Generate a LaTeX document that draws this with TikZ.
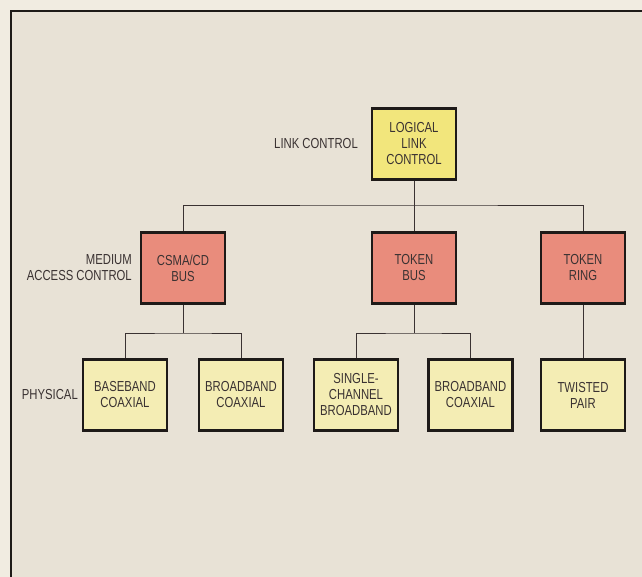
\documentclass[tikz,border=0pt]{standalone}
\usepackage{fontspec}
\setmainfont{Liberation Sans}[FakeStretch=0.78]
\definecolor{paper}{HTML}{F1ECE1}
\definecolor{panel}{HTML}{E8E2D6}
\definecolor{llcfill}{HTML}{F2E67C}
\definecolor{macfill}{HTML}{E98C7C}
\definecolor{phyfill}{HTML}{F4EDB4}
\definecolor{ink}{HTML}{3A3232}
\definecolor{edge}{HTML}{1E1A18}
\tikzset{
  box/.style={draw=edge, line width=2.4pt, minimum width=84pt, minimum height=71pt,
    align=center, font=\fontsize{14.5}{16}\selectfont, text=ink, inner sep=2pt},
  llc/.style={box, fill=llcfill},
  mac/.style={box, fill=macfill},
  phy/.style={box, fill=phyfill},
  lbl/.style={align=right, anchor=east, font=\fontsize{14.5}{16}\selectfont, text=ink, inner sep=0pt},
  wire/.style={draw=ink, line width=0.9pt}
}
\begin{document}
\begin{tikzpicture}[x=1pt,y=-1pt]
\useasboundingbox (0,0) rectangle (642,577);
\fill[paper] (0,0) rectangle (642,577);
\fill[panel] (11,11) rectangle (642,577);
\draw[edge, line width=2pt] (11,577) -- (11,11) -- (642,11);

\node[llc] (llc) at (414,144) {LOGICAL\\LINK\\CONTROL};
\node[mac] (csma) at (183,268) {CSMA/CD\\BUS};
\node[mac] (tbus) at (414,268) {TOKEN\\BUS};
\node[mac] (tring) at (583,268) {TOKEN\\RING};
\node[phy] (base) at (125,395) {BASEBAND\\COAXIAL};
\node[phy] (broad1) at (241,395) {BROADBAND\\COAXIAL};
\node[phy] (single) at (356,395) {SINGLE-\\CHANNEL\\BROADBAND};
\node[phy] (broad2) at (470.5,395) {BROADBAND\\COAXIAL};
\node[phy] (twist) at (583,395) {TWISTED\\PAIR};

\node[lbl] (llab) at (358,144) {LINK CONTROL};
\node[lbl] (mlab) at (132,268) {MEDIUM\\ACCESS CONTROL};
\node[lbl] (plab) at (78,395) {PHYSICAL};

\coordinate (h1) at (414,205);
\coordinate (h2) at (183,333);
\coordinate (h3) at (414,333);

\draw[wire] (llc.south) -- (h1);
\draw[wire] (csma.north) |- (h1) -| (tring.north);
\draw[wire] (h1) -- (tbus.north);
\draw[wire] (csma.south) -- (h2);
\draw[wire] (base.north) |- (h2) -| (broad1.north);
\draw[wire] (tbus.south) -- (h3);
\draw[wire] (single.north) |- (h3) -| (broad2.north);
\draw[wire] (tring.south) -- (twist.north);
\end{tikzpicture}
\end{document}
